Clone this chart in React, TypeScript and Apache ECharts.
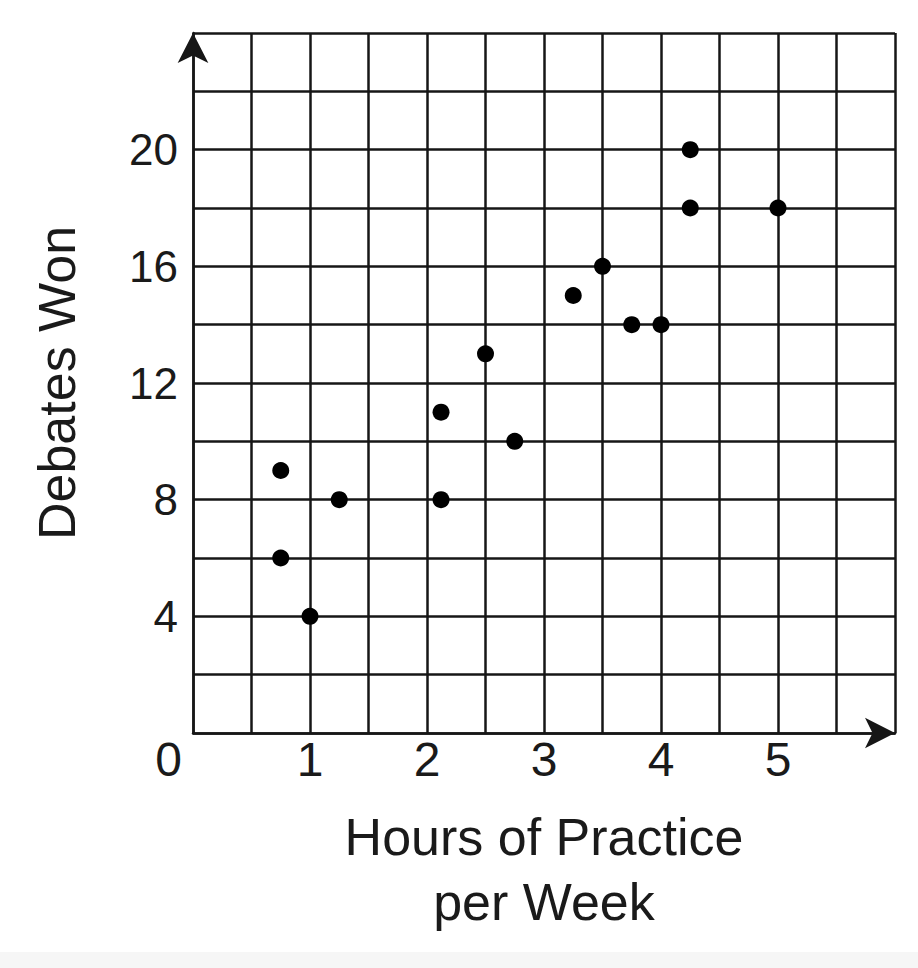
import React, { useEffect, useRef } from 'react';
import * as echarts from 'echarts';

const hours = [0.75, 0.75, 1, 1.25, 2.12, 2.12, 2.5, 2.75, 3.25, 3.5, 3.75, 4, 4.25, 4.25, 5];
const debatesWon = [9, 6, 4, 8, 11, 8, 13, 10, 15, 16, 14, 14, 20, 18, 18];
const xTickLabels = [0, 1, 2, 3, 4, 5];
const yTickLabels = [4, 8, 12, 16, 20];
const xTitle = 'Hours of Practice\nper Week';
const yTitle = 'Debates Won';

export default function App() {
  const ref = useRef<HTMLDivElement>(null);
  useEffect(() => {
    const chart = echarts.init(ref.current!, null, { renderer: 'svg' });
    const font = '"Liberation Sans", Arial, Helvetica, sans-serif';
    const ink = '#1a1a1a';
    const line = { color: '#161616', width: 2.5 };
    chart.setOption({
      animation: false,
      backgroundColor: '#ffffff',
      grid: { left: 193, right: 23, top: 33, bottom: 235, containLabel: false },
      graphic: [
        { type: 'rect', left: 0, bottom: 0, shape: { width: 918, height: 16 }, style: { fill: '#f6f6f6' }, silent: true },
      ],
      xAxis: {
        type: 'value', min: 0, max: 6, interval: 0.5,
        name: xTitle, nameLocation: 'middle', nameGap: 71,
        nameTextStyle: { fontSize: 52, lineHeight: 65, fontFamily: font, color: ink },
        axisLine: { show: true, onZero: false, lineStyle: line, symbol: ['none', 'arrow'], symbolSize: [23, 30], symbolOffset: [0, 0] },
        axisTick: { show: false },
        splitLine: { show: true, lineStyle: line },
        axisLabel: {
          showMinLabel: true, showMaxLabel: true, margin: 2,
          fontSize: 48, lineHeight: 48, fontFamily: font, color: ink,
          formatter: (v: number) => {
            if (!xTickLabels.includes(v)) return '';
            return v === 0 ? `{z|${v}}` : String(v);
          },
          rich: { z: { fontSize: 48, lineHeight: 48, fontFamily: font, color: ink, padding: [0, 49, 0, 0] } },
        },
      },
      yAxis: {
        type: 'value', min: 0, max: 24, interval: 2,
        name: yTitle, nameLocation: 'middle', nameGap: 110,
        nameTextStyle: { fontSize: 52, fontFamily: font, color: ink },
        axisLine: { show: true, onZero: false, lineStyle: line, symbol: ['none', 'arrow'], symbolSize: [23, 30], symbolOffset: [0, 0] },
        axisTick: { show: false },
        splitLine: { show: true, lineStyle: line },
        axisLabel: {
          margin: 15, fontSize: 44, fontFamily: font, color: ink,
          formatter: (v: number) => (yTickLabels.includes(v) ? String(v) : ''),
        },
      },
      series: [
        {
          type: 'scatter',
          data: hours.map((h, i) => [h, debatesWon[i]]),
          symbol: 'circle',
          symbolSize: 17,
          itemStyle: { color: '#000000', opacity: 1 },
          z: 5,
        },
      ],
    });
    return () => chart.dispose();
  }, []);
  return <div ref={ref} style={{ position: 'absolute', left: 0, top: 0, width: 918, height: 968 }} />;
}
